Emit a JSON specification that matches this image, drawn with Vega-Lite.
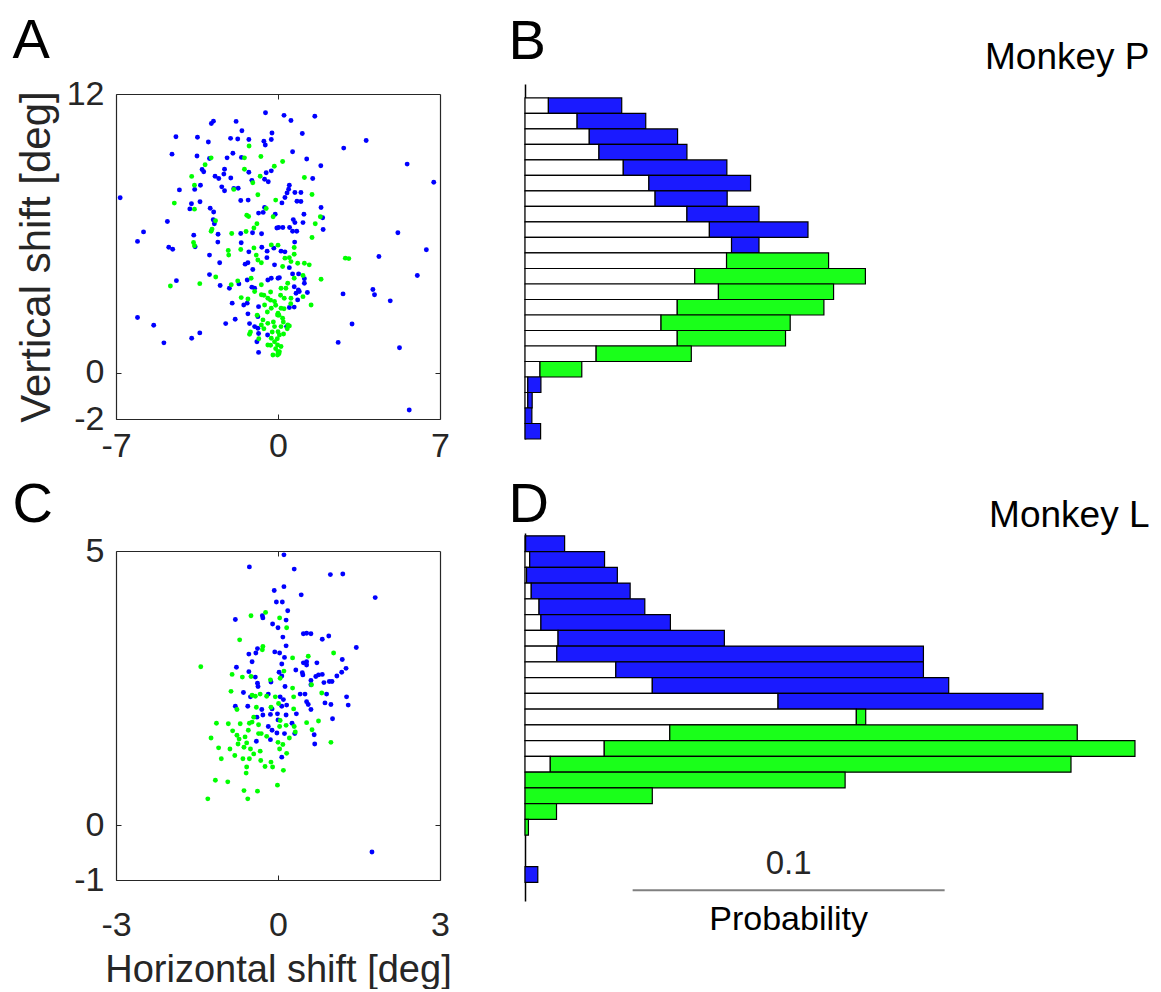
{
  "$schema": "https://vega.github.io/schema/vega-lite/v6.json",
  "background": "white",
  "autosize": {"type": "pad"},
  "padding": {"left": 12, "top": 12, "right": 0, "bottom": 0},
  "bounds": "flush",
  "columns": 2,
  "spacing": {"row": 94, "column": 85},
  "resolve": {"scale": {"x": "independent", "y": "independent", "color": "independent"}},
  "config": {
    "font": "Liberation Sans",
    "view": {"stroke": null},
    "axis": {
      "labelFont": "Liberation Sans",
      "titleFont": "Liberation Sans",
      "titleFontWeight": "normal",
      "labelColor": "#262626",
      "titleColor": "#262626",
      "tickColor": "#262626",
      "domainColor": "#262626",
      "domainWidth": 1.2,
      "grid": false,
      "labelFlush": false,
      "labelOverlap": false
    },
    "text": {"font": "Liberation Sans"}
  },
  "datasets": {
    "ptsA": [
      {"h":-0.54,"v":11.19,"grp":"blue"},{"h":-2.79,"v":10.83,"grp":"blue"},{"h":-2.88,"v":10.73,"grp":"blue"},{"h":-1.81,"v":10.82,"grp":"blue"},{"h":-1.56,"v":10.42,"grp":"blue"},{"h":-4.41,"v":10.16,"grp":"blue"},{"h":-3.48,"v":10.14,"grp":"blue"},{"h":-3.01,"v":9.93,"grp":"blue"},{"h":-2.05,"v":10.09,"grp":"blue"},{"h":-1.74,"v":10.06,"grp":"blue"},
      {"h":-1.26,"v":10.04,"grp":"blue"},{"h":-0.26,"v":10.32,"grp":"blue"},{"h":-0.29,"v":10.04,"grp":"blue"},{"h":-0.61,"v":9.97,"grp":"blue"},{"h":-0.55,"v":9.80,"grp":"blue"},{"h":-4.58,"v":9.41,"grp":"blue"},{"h":-3.50,"v":9.33,"grp":"blue"},{"h":-2.96,"v":9.22,"grp":"blue"},{"h":-2.20,"v":9.25,"grp":"blue"},{"h":-1.95,"v":9.45,"grp":"blue"},
      {"h":-1.58,"v":9.27,"grp":"blue"},{"h":-3.28,"v":8.75,"grp":"blue"},{"h":-3.21,"v":8.65,"grp":"blue"},{"h":-2.31,"v":8.76,"grp":"blue"},{"h":-2.34,"v":8.55,"grp":"blue"},{"h":-1.26,"v":8.63,"grp":"blue"},{"h":-0.51,"v":8.61,"grp":"blue"},{"h":-0.29,"v":8.69,"grp":"blue"},{"h":-2.72,"v":8.46,"grp":"blue"},{"h":-2.56,"v":8.36,"grp":"blue"},
      {"h":-2.04,"v":8.38,"grp":"blue"},{"h":-1.13,"v":8.28,"grp":"blue"},{"h":-0.42,"v":8.22,"grp":"blue"},{"h":-0.58,"v":8.33,"grp":"blue"},{"h":-3.35,"v":8.07,"grp":"blue"},{"h":-3.60,"v":7.89,"grp":"blue"},{"h":-4.26,"v":7.87,"grp":"blue"},{"h":-2.43,"v":8.00,"grp":"blue"},{"h":-2.31,"v":7.83,"grp":"blue"},{"h":-1.91,"v":7.93,"grp":"blue"},
      {"h":-1.72,"v":7.94,"grp":"blue"},{"h":-6.82,"v":7.53,"grp":"blue"},{"h":-3.74,"v":7.27,"grp":"blue"},{"h":-3.81,"v":7.05,"grp":"blue"},{"h":-3.37,"v":7.36,"grp":"blue"},{"h":-2.93,"v":7.08,"grp":"blue"},{"h":-2.78,"v":6.92,"grp":"blue"},{"h":-1.61,"v":7.41,"grp":"blue"},{"h":-1.29,"v":7.43,"grp":"blue"},{"h":-0.58,"v":7.11,"grp":"blue"},
      {"h":-0.84,"v":6.87,"grp":"blue"},{"h":-0.64,"v":6.90,"grp":"blue"},{"h":-0.12,"v":6.82,"grp":"blue"},{"h":-4.78,"v":6.51,"grp":"blue"},{"h":-2.80,"v":6.58,"grp":"blue"},{"h":-2.75,"v":6.41,"grp":"blue"},{"h":-0.05,"v":6.23,"grp":"blue"},{"h":-5.81,"v":6.06,"grp":"blue"},{"h":-6.07,"v":5.65,"grp":"blue"},{"h":-2.59,"v":5.96,"grp":"blue"},
      {"h":-1.61,"v":5.99,"grp":"blue"},{"h":-1.10,"v":6.02,"grp":"blue"},{"h":-0.71,"v":5.98,"grp":"blue"},{"h":-3.64,"v":5.92,"grp":"blue"},{"h":-3.58,"v":5.42,"grp":"blue"},{"h":-4.72,"v":5.40,"grp":"blue"},{"h":-4.55,"v":5.31,"grp":"blue"},{"h":-2.60,"v":5.62,"grp":"blue"},{"h":-1.59,"v":5.59,"grp":"blue"},{"h":-1.26,"v":5.20,"grp":"blue"},
      {"h":-0.70,"v":5.40,"grp":"blue"},{"h":-0.47,"v":5.23,"grp":"blue"},{"h":-0.18,"v":5.36,"grp":"blue"},{"h":-2.96,"v":5.06,"grp":"blue"},
      {"h":0.26,"v":11.08,"grp":"blue"},{"h":0.56,"v":10.86,"grp":"blue"},{"h":1.59,"v":11.04,"grp":"blue"},{"h":1.05,"v":10.30,"grp":"blue"},{"h":3.81,"v":10.00,"grp":"blue"},{"h":2.84,"v":9.67,"grp":"blue"},{"h":0.63,"v":9.51,"grp":"blue"},{"h":1.24,"v":9.20,"grp":"blue"},{"h":1.85,"v":8.91,"grp":"blue"},{"h":5.58,"v":8.98,"grp":"blue"},
      {"h":1.50,"v":8.36,"grp":"blue"},{"h":6.73,"v":8.20,"grp":"blue"},{"h":0.49,"v":8.07,"grp":"blue"},{"h":0.46,"v":7.90,"grp":"blue"},{"h":0.39,"v":7.74,"grp":"blue"},{"h":0.73,"v":7.76,"grp":"blue"},{"h":0.99,"v":7.76,"grp":"blue"},{"h":0.30,"v":7.54,"grp":"blue"},{"h":0.17,"v":7.31,"grp":"blue"},{"h":0.82,"v":7.38,"grp":"blue"},
      {"h":0.99,"v":7.37,"grp":"blue"},{"h":1.86,"v":7.11,"grp":"blue"},{"h":1.12,"v":6.82,"grp":"blue"},{"h":1.93,"v":6.67,"grp":"blue"},{"h":0.66,"v":6.59,"grp":"blue"},{"h":0.73,"v":6.46,"grp":"blue"},{"h":1.08,"v":6.46,"grp":"blue"},{"h":0.03,"v":6.25,"grp":"blue"},{"h":0.21,"v":6.25,"grp":"blue"},{"h":0.50,"v":6.25,"grp":"blue"},
      {"h":0.63,"v":6.09,"grp":"blue"},{"h":0.81,"v":6.09,"grp":"blue"},{"h":1.95,"v":6.16,"grp":"blue"},{"h":5.18,"v":6.02,"grp":"blue"},{"h":0.72,"v":5.62,"grp":"blue"},{"h":6.41,"v":5.29,"grp":"blue"},{"h":0.13,"v":5.23,"grp":"blue"},{"h":0.30,"v":5.20,"grp":"blue"},{"h":4.36,"v":5.00,"grp":"blue"},
      {"h":-2.52,"v":4.73,"grp":"blue"},{"h":-1.42,"v":4.67,"grp":"blue"},{"h":-1.30,"v":4.73,"grp":"blue"},{"h":-1.09,"v":4.44,"grp":"blue"},{"h":-0.48,"v":4.95,"grp":"blue"},{"h":-0.15,"v":4.64,"grp":"blue"},{"h":-4.39,"v":3.96,"grp":"blue"},{"h":-2.96,"v":4.22,"grp":"blue"},{"h":-2.50,"v":3.75,"grp":"blue"},{"h":-2.10,"v":3.63,"grp":"blue"},
      {"h":-1.69,"v":3.82,"grp":"blue"},{"h":-1.33,"v":3.99,"grp":"blue"},{"h":-1.13,"v":3.68,"grp":"blue"},{"h":-1.01,"v":3.63,"grp":"blue"},{"h":-0.44,"v":3.99,"grp":"blue"},{"h":-0.29,"v":4.06,"grp":"blue"},{"h":0.00,"v":4.06,"grp":"blue"},{"h":-1.98,"v":2.99,"grp":"blue"},{"h":-1.48,"v":2.91,"grp":"blue"},{"h":-1.33,"v":2.99,"grp":"blue"},
      {"h":-0.84,"v":2.84,"grp":"blue"},{"h":-6.07,"v":2.37,"grp":"blue"},{"h":-5.37,"v":2.04,"grp":"blue"},{"h":-4.93,"v":1.28,"grp":"blue"},{"h":-3.73,"v":1.48,"grp":"blue"},{"h":-3.38,"v":1.71,"grp":"blue"},{"h":-2.26,"v":2.11,"grp":"blue"},{"h":-1.85,"v":2.30,"grp":"blue"},{"h":-1.30,"v":2.53,"grp":"blue"},{"h":-1.23,"v":2.11,"grp":"blue"},
      {"h":-0.87,"v":2.41,"grp":"blue"},{"h":-1.01,"v":1.98,"grp":"blue"},{"h":-0.87,"v":1.91,"grp":"blue"},{"h":-0.84,"v":1.68,"grp":"blue"},{"h":-0.45,"v":1.62,"grp":"blue"},{"h":-0.91,"v":1.33,"grp":"blue"},{"h":-0.84,"v":0.87,"grp":"blue"},
      {"h":0.49,"v":4.52,"grp":"blue"},{"h":0.63,"v":4.25,"grp":"blue"},{"h":0.89,"v":4.25,"grp":"blue"},{"h":1.14,"v":4.04,"grp":"blue"},{"h":1.14,"v":3.85,"grp":"blue"},{"h":0.06,"v":4.09,"grp":"blue"},{"h":0.70,"v":3.70,"grp":"blue"},{"h":0.88,"v":3.56,"grp":"blue"},{"h":0.78,"v":3.42,"grp":"blue"},{"h":0.92,"v":3.49,"grp":"blue"},
      {"h":1.27,"v":3.45,"grp":"blue"},{"h":0.85,"v":3.13,"grp":"blue"},{"h":0.49,"v":2.80,"grp":"blue"},{"h":0.70,"v":2.82,"grp":"blue"},{"h":0.37,"v":1.98,"grp":"blue"},{"h":6.02,"v":4.18,"grp":"blue"},{"h":2.81,"v":3.39,"grp":"blue"},{"h":4.10,"v":3.58,"grp":"blue"},{"h":4.17,"v":3.35,"grp":"blue"},{"h":4.85,"v":3.09,"grp":"blue"},
      {"h":3.20,"v":2.09,"grp":"blue"},{"h":2.60,"v":1.30,"grp":"blue"},{"h":5.25,"v":1.07,"grp":"blue"},{"h":5.67,"v":-1.61,"grp":"blue"},
      {"h":-1.25,"v":9.76,"grp":"green"},{"h":-2.89,"v":9.25,"grp":"green"},{"h":-1.45,"v":9.25,"grp":"green"},{"h":-0.74,"v":9.31,"grp":"green"},{"h":-0.16,"v":8.89,"grp":"green"},{"h":-3.15,"v":8.95,"grp":"green"},{"h":-1.45,"v":8.76,"grp":"green"},{"h":-0.77,"v":8.46,"grp":"green"},{"h":-3.73,"v":8.45,"grp":"green"},{"h":-3.61,"v":8.07,"grp":"green"},
      {"h":-1.91,"v":7.89,"grp":"green"},{"h":-1.09,"v":8.18,"grp":"green"},{"h":-0.87,"v":7.66,"grp":"green"},{"h":-4.48,"v":7.30,"grp":"green"},{"h":-3.61,"v":7.04,"grp":"green"},{"h":-0.10,"v":7.43,"grp":"green"},{"h":-0.51,"v":7.07,"grp":"green"},{"h":-1.35,"v":6.78,"grp":"green"},{"h":-1.27,"v":6.72,"grp":"green"},{"h":-0.21,"v":6.71,"grp":"green"},
      {"h":-2.70,"v":6.54,"grp":"green"},{"h":-0.91,"v":6.41,"grp":"green"},{"h":-1.04,"v":6.23,"grp":"green"},{"h":-2.85,"v":6.18,"grp":"green"},{"h":-2.89,"v":6.09,"grp":"green"},{"h":-2.00,"v":5.99,"grp":"green"},{"h":-1.38,"v":6.08,"grp":"green"},{"h":-3.65,"v":5.60,"grp":"green"},{"h":-3.61,"v":5.46,"grp":"green"},{"h":-2.15,"v":5.26,"grp":"green"},
      {"h":-1.61,"v":5.30,"grp":"green"},{"h":-1.04,"v":5.37,"grp":"green"},{"h":-0.29,"v":5.50,"grp":"green"},{"h":0.00,"v":5.49,"grp":"green"},{"h":-2.13,"v":5.06,"grp":"green"},{"h":-0.94,"v":5.06,"grp":"green"},
      {"h":0.20,"v":9.09,"grp":"green"},{"h":1.14,"v":8.40,"grp":"green"},{"h":1.47,"v":7.67,"grp":"green"},{"h":1.83,"v":6.71,"grp":"green"},{"h":1.61,"v":6.41,"grp":"green"},{"h":1.47,"v":5.82,"grp":"green"},{"h":0.70,"v":5.39,"grp":"green"},{"h":0.70,"v":5.10,"grp":"green"},
      {"h":-0.87,"v":4.85,"grp":"green"},{"h":-0.72,"v":4.73,"grp":"green"},{"h":-4.65,"v":3.73,"grp":"green"},{"h":-2.69,"v":4.12,"grp":"green"},{"h":-3.38,"v":3.83,"grp":"green"},{"h":-2.02,"v":3.78,"grp":"green"},{"h":-1.74,"v":3.95,"grp":"green"},{"h":-1.16,"v":4.06,"grp":"green"},{"h":-0.72,"v":3.78,"grp":"green"},{"h":-1.01,"v":3.49,"grp":"green"},
      {"h":-1.59,"v":3.23,"grp":"green"},{"h":-1.30,"v":3.17,"grp":"green"},{"h":-0.72,"v":3.35,"grp":"green"},{"h":-0.44,"v":3.20,"grp":"green"},{"h":-0.58,"v":2.91,"grp":"green"},{"h":-0.15,"v":3.06,"grp":"green"},{"h":-0.29,"v":2.77,"grp":"green"},{"h":0.00,"v":2.56,"grp":"green"},{"h":-0.65,"v":2.27,"grp":"green"},{"h":-0.72,"v":2.05,"grp":"green"},
      {"h":-0.44,"v":2.12,"grp":"green"},{"h":-0.15,"v":1.98,"grp":"green"},{"h":0.00,"v":1.76,"grp":"green"},{"h":-1.23,"v":1.65,"grp":"green"},{"h":-0.29,"v":1.48,"grp":"green"},{"h":-0.44,"v":1.19,"grp":"green"},{"h":-0.15,"v":1.33,"grp":"green"},{"h":0.00,"v":0.90,"grp":"green"},{"h":-0.22,"v":0.76,"grp":"green"},
      {"h":0.30,"v":4.93,"grp":"green"},{"h":0.49,"v":4.95,"grp":"green"},{"h":0.85,"v":4.71,"grp":"green"},{"h":1.14,"v":4.71,"grp":"green"},{"h":1.35,"v":4.64,"grp":"green"},{"h":0.20,"v":4.57,"grp":"green"},{"h":0.56,"v":4.78,"grp":"green"},{"h":1.08,"v":4.18,"grp":"green"},{"h":1.86,"v":4.02,"grp":"green"},{"h":0.70,"v":4.06,"grp":"green"},
      {"h":0.42,"v":3.85,"grp":"green"},{"h":0.13,"v":3.63,"grp":"green"},{"h":0.34,"v":3.63,"grp":"green"},{"h":0.27,"v":3.20,"grp":"green"},{"h":0.56,"v":3.20,"grp":"green"},{"h":1.08,"v":3.27,"grp":"green"},{"h":1.43,"v":2.91,"grp":"green"},{"h":0.13,"v":2.77,"grp":"green"},{"h":-0.02,"v":2.48,"grp":"green"},{"h":0.20,"v":2.34,"grp":"green"},
      {"h":0.42,"v":2.05,"grp":"green"},{"h":0.13,"v":1.98,"grp":"green"},{"h":0.49,"v":2.01,"grp":"green"},{"h":0.06,"v":1.62,"grp":"green"},{"h":0.24,"v":1.66,"grp":"green"},{"h":-0.02,"v":1.19,"grp":"green"},{"h":0.13,"v":1.12,"grp":"green"},{"h":0.06,"v":0.90,"grp":"green"},{"h":-0.02,"v":0.76,"grp":"green"},{"h":2.91,"v":4.93,"grp":"green"},
      {"h":3.06,"v":4.91,"grp":"green"},
      {"h":-0.61,"v":3.33,"grp":"green"},{"h":-0.32,"v":3.12,"grp":"green"},{"h":-0.10,"v":2.90,"grp":"green"},{"h":-0.46,"v":2.61,"grp":"green"},{"h":0.04,"v":2.47,"grp":"green"},{"h":-0.20,"v":2.18,"grp":"green"},{"h":0.23,"v":2.18,"grp":"green"},{"h":-0.61,"v":1.89,"grp":"green"},{"h":-0.25,"v":1.75,"grp":"green"},{"h":-0.03,"v":1.46,"grp":"green"},
      {"h":-0.32,"v":1.18,"grp":"green"},{"h":-0.10,"v":1.03,"grp":"green"},{"h":0.04,"v":0.81,"grp":"green"},{"h":-0.83,"v":1.46,"grp":"green"},{"h":0.40,"v":1.89,"grp":"green"},{"h":-1.19,"v":1.75,"grp":"green"},{"h":-0.90,"v":2.47,"grp":"green"},{"h":0.26,"v":2.75,"grp":"green"},{"h":0.55,"v":2.97,"grp":"green"},{"h":-0.32,"v":3.47,"grp":"green"},
      {"h":0.11,"v":3.33,"grp":"green"}
    ],
    "ptsC": [
      {"h":0.11,"v":4.93,"grp":"blue"},{"h":-0.53,"v":4.71,"grp":"blue"},{"h":0.30,"v":4.67,"grp":"blue"},{"h":0.97,"v":4.57,"grp":"blue"},{"h":1.20,"v":4.58,"grp":"blue"},{"h":-0.07,"v":4.28,"grp":"blue"},{"h":0.11,"v":4.35,"grp":"blue"},{"h":0.43,"v":4.20,"grp":"blue"},{"h":1.80,"v":4.15,"grp":"blue"},{"h":-0.03,"v":4.07,"grp":"blue"},
      {"h":0.08,"v":4.07,"grp":"blue"},{"h":0.18,"v":3.91,"grp":"blue"},{"h":-0.29,"v":3.82,"grp":"blue"},{"h":-0.28,"v":3.78,"grp":"blue"},{"h":-0.79,"v":3.75,"grp":"blue"},{"h":0.15,"v":3.74,"grp":"blue"},{"h":-0.10,"v":3.67,"grp":"blue"},{"h":0.00,"v":3.60,"grp":"blue"},{"h":0.09,"v":3.43,"grp":"blue"},{"h":0.47,"v":3.49,"grp":"blue"},
      {"h":0.53,"v":3.50,"grp":"blue"},{"h":0.61,"v":3.49,"grp":"blue"},{"h":0.82,"v":3.39,"grp":"blue"},{"h":0.94,"v":3.45,"grp":"blue"},{"h":0.15,"v":3.27,"grp":"blue"},{"h":-0.38,"v":3.22,"grp":"blue"},{"h":-0.41,"v":3.14,"grp":"blue"},{"h":-0.54,"v":3.12,"grp":"blue"},{"h":-0.06,"v":3.16,"grp":"blue"},{"h":0.03,"v":3.14,"grp":"blue"},
      {"h":0.12,"v":3.06,"grp":"blue"},{"h":0.53,"v":2.98,"grp":"blue"},{"h":0.47,"v":2.96,"grp":"blue"},{"h":0.72,"v":2.96,"grp":"blue"},{"h":1.45,"v":3.24,"grp":"blue"},{"h":1.19,"v":3.02,"grp":"blue"},{"h":-0.48,"v":2.98,"grp":"blue"},{"h":-0.77,"v":2.88,"grp":"blue"},{"h":0.07,"v":2.94,"grp":"blue"},{"h":0.53,"v":2.92,"grp":"blue"},
      {"h":1.26,"v":2.86,"grp":"blue"},{"h":1.18,"v":2.79,"grp":"blue"},{"h":1.09,"v":2.72,"grp":"blue"},{"h":-0.54,"v":2.80,"grp":"blue"},{"h":-0.42,"v":2.70,"grp":"blue"},{"h":0.02,"v":2.79,"grp":"blue"},{"h":0.07,"v":2.72,"grp":"blue"},{"h":0.33,"v":2.83,"grp":"blue"},{"h":0.45,"v":2.78,"grp":"blue"},{"h":0.46,"v":2.74,"grp":"blue"},
      {"h":0.70,"v":2.71,"grp":"blue"},{"h":0.75,"v":2.74,"grp":"blue"},{"h":0.82,"v":2.75,"grp":"blue"},{"h":-0.13,"v":2.61,"grp":"blue"},{"h":-0.38,"v":2.59,"grp":"blue"},{"h":-0.37,"v":2.53,"grp":"blue"},{"h":0.61,"v":2.64,"grp":"blue"},{"h":0.61,"v":2.56,"grp":"blue"},{"h":0.85,"v":2.60,"grp":"blue"},{"h":0.95,"v":2.62,"grp":"blue"},
      {"h":1.00,"v":2.62,"grp":"blue"},{"h":0.13,"v":2.53,"grp":"blue"},
      {"h":-0.64,"v":2.42,"grp":"blue"},{"h":-0.51,"v":2.34,"grp":"blue"},{"h":-0.18,"v":2.39,"grp":"blue"},{"h":0.04,"v":2.34,"grp":"blue"},{"h":0.10,"v":2.29,"grp":"blue"},{"h":0.41,"v":2.39,"grp":"blue"},{"h":0.50,"v":2.39,"grp":"blue"},{"h":0.90,"v":2.39,"grp":"blue"},{"h":1.27,"v":2.34,"grp":"blue"},{"h":1.30,"v":2.19,"grp":"blue"},
      {"h":0.87,"v":2.23,"grp":"blue"},{"h":0.98,"v":2.20,"grp":"blue"},{"h":0.56,"v":2.20,"grp":"blue"},{"h":0.53,"v":2.25,"grp":"blue"},{"h":0.61,"v":2.11,"grp":"blue"},{"h":-0.79,"v":2.17,"grp":"blue"},{"h":-0.56,"v":2.17,"grp":"blue"},{"h":-0.30,"v":2.11,"grp":"blue"},{"h":-0.11,"v":2.12,"grp":"blue"},{"h":0.16,"v":2.19,"grp":"blue"},
      {"h":0.07,"v":2.17,"grp":"blue"},{"h":-0.28,"v":2.01,"grp":"blue"},{"h":-0.14,"v":2.02,"grp":"blue"},{"h":-0.01,"v":2.03,"grp":"blue"},{"h":0.15,"v":2.01,"grp":"blue"},{"h":0.34,"v":2.03,"grp":"blue"},{"h":-0.39,"v":1.97,"grp":"blue"},{"h":0.00,"v":1.92,"grp":"blue"},{"h":0.26,"v":1.86,"grp":"blue"},{"h":1.01,"v":1.94,"grp":"blue"},
      {"h":-0.18,"v":1.80,"grp":"blue"},{"h":-0.11,"v":1.73,"grp":"blue"},{"h":-0.02,"v":1.68,"grp":"blue"},{"h":0.12,"v":1.67,"grp":"blue"},{"h":0.31,"v":1.67,"grp":"blue"},{"h":0.67,"v":1.65,"grp":"blue"},{"h":0.68,"v":1.48,"grp":"blue"},{"h":-0.40,"v":1.53,"grp":"blue"},{"h":-0.14,"v":1.56,"grp":"blue"},{"h":0.07,"v":1.24,"grp":"blue"},
      {"h":1.74,"v":-0.49,"grp":"blue"},
      {"h":-0.23,"v":3.88,"grp":"green"},{"h":-0.50,"v":3.82,"grp":"green"},{"h":0.03,"v":3.78,"grp":"green"},{"h":0.16,"v":3.60,"grp":"green"},{"h":-0.71,"v":3.38,"grp":"green"},{"h":-0.28,"v":3.26,"grp":"green"},{"h":-0.29,"v":3.20,"grp":"green"},{"h":0.27,"v":3.05,"grp":"green"},{"h":0.56,"v":3.08,"grp":"green"},{"h":1.03,"v":3.14,"grp":"green"},
      {"h":-1.43,"v":2.89,"grp":"green"},{"h":-0.85,"v":2.75,"grp":"green"},{"h":-0.66,"v":2.70,"grp":"green"},{"h":-0.50,"v":2.71,"grp":"green"},{"h":0.11,"v":2.81,"grp":"green"},{"h":-0.14,"v":2.65,"grp":"green"},{"h":0.04,"v":2.68,"grp":"green"},{"h":0.27,"v":2.50,"grp":"green"},{"h":0.62,"v":2.56,"grp":"green"},
      {"h":-0.87,"v":2.44,"grp":"green"},{"h":-0.48,"v":2.37,"grp":"green"},{"h":-0.42,"v":2.35,"grp":"green"},{"h":-0.33,"v":2.39,"grp":"green"},{"h":-0.21,"v":2.35,"grp":"green"},{"h":-0.05,"v":2.34,"grp":"green"},{"h":0.29,"v":2.34,"grp":"green"},{"h":0.81,"v":2.41,"grp":"green"},{"h":-0.76,"v":2.11,"grp":"green"},{"h":-0.40,"v":2.15,"grp":"green"},
      {"h":-0.13,"v":2.15,"grp":"green"},{"h":0.01,"v":2.22,"grp":"green"},{"h":0.29,"v":2.12,"grp":"green"},{"h":-0.45,"v":1.97,"grp":"green"},{"h":-0.48,"v":1.88,"grp":"green"},{"h":-0.36,"v":1.83,"grp":"green"},{"h":0.04,"v":1.91,"grp":"green"},{"h":0.53,"v":1.87,"grp":"green"},{"h":0.75,"v":1.90,"grp":"green"},{"h":-1.14,"v":1.86,"grp":"green"},
      {"h":-0.92,"v":1.85,"grp":"green"},{"h":-0.70,"v":1.85,"grp":"green"},{"h":-0.53,"v":1.86,"grp":"green"},{"h":0.03,"v":1.80,"grp":"green"},{"h":0.15,"v":1.82,"grp":"green"},{"h":0.30,"v":1.80,"grp":"green"},{"h":0.32,"v":1.70,"grp":"green"},{"h":0.63,"v":1.74,"grp":"green"},{"h":0.98,"v":1.51,"grp":"green"},{"h":-0.84,"v":1.72,"grp":"green"},
      {"h":-0.76,"v":1.64,"grp":"green"},{"h":-0.72,"v":1.57,"grp":"green"},{"h":-0.61,"v":1.61,"grp":"green"},{"h":-0.55,"v":1.73,"grp":"green"},{"h":-0.36,"v":1.67,"grp":"green"},{"h":-0.31,"v":1.67,"grp":"green"},{"h":-0.21,"v":1.62,"grp":"green"},{"h":0.00,"v":1.51,"grp":"green"},{"h":0.21,"v":1.59,"grp":"green"},{"h":0.09,"v":1.47,"grp":"green"},
      {"h":0.03,"v":1.39,"grp":"green"},{"h":-1.24,"v":1.59,"grp":"green"},{"h":-1.10,"v":1.41,"grp":"green"},{"h":-0.89,"v":1.39,"grp":"green"},{"h":-0.74,"v":1.48,"grp":"green"},{"h":-0.63,"v":1.42,"grp":"green"},{"h":-0.58,"v":1.50,"grp":"green"},{"h":-0.45,"v":1.30,"grp":"green"},{"h":-0.33,"v":1.35,"grp":"green"},{"h":-0.51,"v":1.39,"grp":"green"},
      {"h":0.16,"v":1.31,"grp":"green"},{"h":-1.05,"v":1.21,"grp":"green"},{"h":-0.80,"v":1.27,"grp":"green"},{"h":-0.65,"v":1.21,"grp":"green"},{"h":-0.53,"v":1.21,"grp":"green"},{"h":-0.32,"v":1.18,"grp":"green"},{"h":-0.13,"v":1.15,"grp":"green"},{"h":-0.24,"v":1.07,"grp":"green"},{"h":-0.10,"v":1.06,"grp":"green"},{"h":-0.58,"v":1.06,"grp":"green"},
      {"h":-0.59,"v":0.95,"grp":"green"},{"h":0.10,"v":1.00,"grp":"green"},{"h":-1.16,"v":0.82,"grp":"green"},{"h":-0.93,"v":0.79,"grp":"green"},{"h":-0.01,"v":0.73,"grp":"green"},{"h":-0.63,"v":0.63,"grp":"green"},{"h":-0.38,"v":0.62,"grp":"green"},{"h":-1.30,"v":0.48,"grp":"green"},{"h":-0.56,"v":0.48,"grp":"green"}
    ],
    "histB": [
      {"row":1,"seg":"white","p":0.0075},{"row":1,"seg":"blue","p":0.0235},
      {"row":2,"seg":"white","p":0.0167},{"row":2,"seg":"blue","p":0.0220},
      {"row":3,"seg":"white","p":0.0206},{"row":3,"seg":"blue","p":0.0283},
      {"row":4,"seg":"white","p":0.0237},{"row":4,"seg":"blue","p":0.0282},
      {"row":5,"seg":"white","p":0.0315},{"row":5,"seg":"blue","p":0.0332},
      {"row":6,"seg":"white","p":0.0397},{"row":6,"seg":"blue","p":0.0326},
      {"row":7,"seg":"white","p":0.0417},{"row":7,"seg":"blue","p":0.0231},
      {"row":8,"seg":"white","p":0.0519},{"row":8,"seg":"blue","p":0.0231},
      {"row":9,"seg":"white","p":0.0591},{"row":9,"seg":"blue","p":0.0316},
      {"row":10,"seg":"white","p":0.0662},{"row":10,"seg":"blue","p":0.0088},
      {"row":11,"seg":"white","p":0.0646},{"row":11,"seg":"green","p":0.0327},
      {"row":12,"seg":"white","p":0.0544},{"row":12,"seg":"green","p":0.0547},
      {"row":13,"seg":"white","p":0.0620},{"row":13,"seg":"green","p":0.0369},
      {"row":14,"seg":"white","p":0.0488},{"row":14,"seg":"green","p":0.0470},
      {"row":15,"seg":"white","p":0.0436},{"row":15,"seg":"green","p":0.0414},
      {"row":16,"seg":"white","p":0.0488},{"row":16,"seg":"green","p":0.0347},
      {"row":17,"seg":"white","p":0.0228},{"row":17,"seg":"green","p":0.0305},
      {"row":18,"seg":"white","p":0.0048},{"row":18,"seg":"green","p":0.0134},
      {"row":19,"seg":"white","p":0.0009},{"row":19,"seg":"blue","p":0.0042},
      {"row":20,"seg":"white","p":0.0009},{"row":20,"seg":"blue","p":0.0014},
      {"row":21,"seg":"blue","p":0.0022},
      {"row":22,"seg":"blue","p":0.0050}
    ],
    "histD": [
      {"row":1,"seg":"white","p":0.0002},{"row":1,"seg":"blue","p":0.0125},
      {"row":2,"seg":"white","p":0.0015},{"row":2,"seg":"blue","p":0.0240},
      {"row":3,"seg":"white","p":0.0005},{"row":3,"seg":"blue","p":0.0291},
      {"row":4,"seg":"white","p":0.0020},{"row":4,"seg":"blue","p":0.0317},
      {"row":5,"seg":"white","p":0.0045},{"row":5,"seg":"blue","p":0.0339},
      {"row":6,"seg":"white","p":0.0051},{"row":6,"seg":"blue","p":0.0415},
      {"row":7,"seg":"white","p":0.0106},{"row":7,"seg":"blue","p":0.0533},
      {"row":8,"seg":"white","p":0.0102},{"row":8,"seg":"blue","p":0.1175},
      {"row":9,"seg":"white","p":0.0291},{"row":9,"seg":"blue","p":0.0986},
      {"row":10,"seg":"white","p":0.0408},{"row":10,"seg":"blue","p":0.0950},
      {"row":11,"seg":"white","p":0.0811},{"row":11,"seg":"blue","p":0.0849},
      {"row":12,"seg":"white","p":0.1062},{"row":12,"seg":"green","p":0.0030},
      {"row":13,"seg":"white","p":0.0464},{"row":13,"seg":"green","p":0.1306},
      {"row":14,"seg":"white","p":0.0254},{"row":14,"seg":"green","p":0.1701},
      {"row":15,"seg":"white","p":0.0081},{"row":15,"seg":"green","p":0.1669},
      {"row":16,"seg":"green","p":0.1026},
      {"row":17,"seg":"green","p":0.0408},
      {"row":18,"seg":"green","p":0.0101},
      {"row":19,"seg":"green","p":0.0011},
      {"row":22,"seg":"blue","p":0.0041}
    ],
    "scaleBar": [
      {"row": 23, "p0": 0.0345, "p1": 0.1345, "mid": 0.0845, "len": 0.1, "unit": "Probability"}
    ]
  },
  "concat": [
    {
      "width": 324,
      "height": 335,
      "layer": [
        {
          "data": {"name": "ptsA"},
          "mark": {"type": "circle", "size": 24, "opacity": 1},
          "encoding": {
            "x": {
              "field": "h", "type": "quantitative",
              "scale": {"domain": [-7, 7], "nice": false, "zero": false},
              "axis": {"orient": "bottom", "values": [-7, 0, 7], "title": null, "domain": true, "tickSize": -5, "labelFontSize": 34, "labelPadding": 15,
                       "labelExpr": "datum.value < 0 ? '-' + abs(datum.value) : '' + datum.value"}
            },
            "y": {
              "field": "v", "type": "quantitative",
              "scale": {"domain": [-2, 12], "nice": false, "zero": false, "range": [335, 10]},
              "axis": {"orient": "left", "values": [-2, 0, 12], "domain": true, "tickSize": -5, "labelFontSize": 34, "labelPadding": 17,
                       "labelExpr": "datum.value < 0 ? '-' + abs(datum.value) : '' + datum.value",
                       "title": "Vertical shift [deg]", "titleFontSize": 42, "titleAngle": -90, "titleX": -80, "titleY": 172.5, "titleAlign": "center", "titleBaseline": "middle"}
            },
            "color": {"field": "grp", "type": "nominal", "scale": {"domain": ["blue", "green"], "range": ["#0000ff", "#00ff00"]}, "legend": null}
          }
        },
        {
          "data": {"name": "ptsA"},
          "mark": {"type": "circle", "opacity": 0},
          "encoding": {
            "x": {
              "field": "h", "type": "quantitative",
              "axis": {"orient": "top", "offset": -10, "values": [0], "labels": false, "domain": true, "tickSize": -5,
                       "title": "A", "titleFontSize": 56, "titleColor": "black", "titleAngle": 0, "titleX": -104, "titleY": -37, "titleAlign": "left", "titleBaseline": "alphabetic"}
            },
            "y": {
              "field": "v", "type": "quantitative",
              "axis": {"orient": "right", "values": [0], "labels": false, "domain": true, "tickSize": -5, "title": null}
            }
          }
        }
      ],
      "resolve": {"axis": {"x": "independent", "y": "independent"}}
    },
    {
      "width": 624,
      "height": 355,
      "data": {"name": "histB"},
      "mark": {"type": "bar", "stroke": "black", "strokeWidth": 1.2},
      "encoding": {
        "y": {
          "field": "row", "type": "ordinal",
          "scale": {"domain": [1,2,3,4,5,6,7,8,9,10,11,12,13,14,15,16,17,18,19,20,21,22], "paddingInner": 0, "paddingOuter": 0.45, "align": 1},
          "axis": {"orient": "left", "domain": true, "domainColor": "black", "domainWidth": 1.5, "ticks": false, "labels": false,
                   "title": "B", "titleFontSize": 56, "titleColor": "black", "titleAngle": 0, "titleX": -17, "titleY": -26, "titleAlign": "left", "titleBaseline": "alphabetic"}
        },
        "x": {
          "field": "p", "type": "quantitative", "stack": "zero",
          "scale": {"domain": [0, 0.2], "nice": false},
          "axis": {"orient": "top", "domain": false, "ticks": false, "labels": false,
                   "title": "Monkey P", "titleFontSize": 37, "titleColor": "black", "titleX": 624, "titleY": -16, "titleAlign": "right", "titleBaseline": "alphabetic"}
        },
        "color": {"field": "seg", "type": "nominal", "scale": {"domain": ["white", "blue", "green"], "range": ["#ffffff", "#1a1aff", "#1aff1a"]}, "legend": null},
        "order": {"field": "seg", "sort": "descending"}
      }
    },
    {
      "width": 324,
      "height": 347,
      "layer": [
        {
          "data": {"name": "ptsC"},
          "mark": {"type": "circle", "size": 24, "opacity": 1},
          "encoding": {
            "x": {
              "field": "h", "type": "quantitative",
              "scale": {"domain": [-3, 3], "nice": false, "zero": false},
              "axis": {"orient": "bottom", "values": [-3, 0, 3], "domain": true, "tickSize": -5, "labelFontSize": 34, "labelPadding": 33,
                       "labelExpr": "datum.value < 0 ? '-' + abs(datum.value) : '' + datum.value",
                       "title": "Horizontal shift [deg]", "titleFontSize": 38, "titleX": 162, "titleY": 90, "titleAlign": "center", "titleBaseline": "middle"}
            },
            "y": {
              "field": "v", "type": "quantitative",
              "scale": {"domain": [-1, 5], "nice": false, "zero": false, "range": [347, 18]},
              "axis": {"orient": "left", "values": [-1, 0, 5], "domain": true, "tickSize": -5, "labelFontSize": 34, "labelPadding": 17, "title": null,
                       "labelExpr": "datum.value < 0 ? '-' + abs(datum.value) : '' + datum.value"}
            },
            "color": {"field": "grp", "type": "nominal", "scale": {"domain": ["blue", "green"], "range": ["#0000ff", "#00ff00"]}, "legend": null}
          }
        },
        {
          "data": {"name": "ptsC"},
          "mark": {"type": "circle", "opacity": 0},
          "encoding": {
            "x": {
              "field": "h", "type": "quantitative",
              "axis": {"orient": "top", "offset": -18, "values": [0], "labels": false, "domain": true, "tickSize": -5,
                       "title": "C", "titleFontSize": 56, "titleColor": "black", "titleAngle": 0, "titleX": -104, "titleY": -30, "titleAlign": "left", "titleBaseline": "alphabetic"}
            },
            "y": {
              "field": "v", "type": "quantitative",
              "axis": {"orient": "right", "values": [0], "labels": false, "domain": true, "tickSize": -5, "title": null}
            }
          }
        }
      ],
      "resolve": {"axis": {"x": "independent", "y": "independent"}}
    },
    {
      "width": 624,
      "height": 368,
      "layer": [
        {
          "data": {"name": "histD"},
          "mark": {"type": "bar", "stroke": "black", "strokeWidth": 1.2},
          "encoding": {
            "y": {
              "field": "row", "type": "ordinal",
              "scale": {"domain": [1,2,3,4,5,6,7,8,9,10,11,12,13,14,15,16,17,18,19,20,21,22,23], "paddingInner": 0, "paddingOuter": 0.18, "align": 0.5},
              "axis": {"orient": "left", "domain": true, "domainColor": "black", "domainWidth": 1.5, "ticks": false, "labels": false,
                       "title": "D", "titleFontSize": 56, "titleColor": "black", "titleAngle": 0, "titleX": -17, "titleY": -12, "titleAlign": "left", "titleBaseline": "alphabetic"}
            },
            "x": {
              "field": "p", "type": "quantitative", "stack": "zero",
              "scale": {"domain": [0, 0.2], "nice": false},
              "axis": {"orient": "top", "domain": false, "ticks": false, "labels": false,
                       "title": "Monkey L", "titleFontSize": 37, "titleColor": "black", "titleX": 624, "titleY": -7, "titleAlign": "right", "titleBaseline": "alphabetic"}
            },
            "color": {"field": "seg", "type": "nominal", "scale": {"domain": ["white", "blue", "green"], "range": ["#ffffff", "#1a1aff", "#1aff1a"]}, "legend": null},
            "order": {"field": "seg", "sort": "descending"}
          }
        },
        {
          "data": {"name": "scaleBar"},
          "mark": {"type": "rule", "color": "#808080", "strokeWidth": 2},
          "encoding": {
            "x": {"field": "p0", "type": "quantitative"},
            "x2": {"field": "p1"},
            "y": {"field": "row", "type": "ordinal"}
          }
        },
        {
          "data": {"name": "scaleBar"},
          "mark": {"type": "text", "fontSize": 33, "dy": -26, "color": "#262626"},
          "encoding": {
            "x": {"field": "mid", "type": "quantitative"},
            "y": {"field": "row", "type": "ordinal"},
            "text": {"field": "len", "type": "quantitative"}
          }
        },
        {
          "data": {"name": "scaleBar"},
          "mark": {"type": "text", "fontSize": 34, "dy": 30, "color": "black"},
          "encoding": {
            "x": {"field": "mid", "type": "quantitative"},
            "y": {"field": "row", "type": "ordinal"},
            "text": {"field": "unit", "type": "nominal"}
          }
        }
      ]
    }
  ]
}
